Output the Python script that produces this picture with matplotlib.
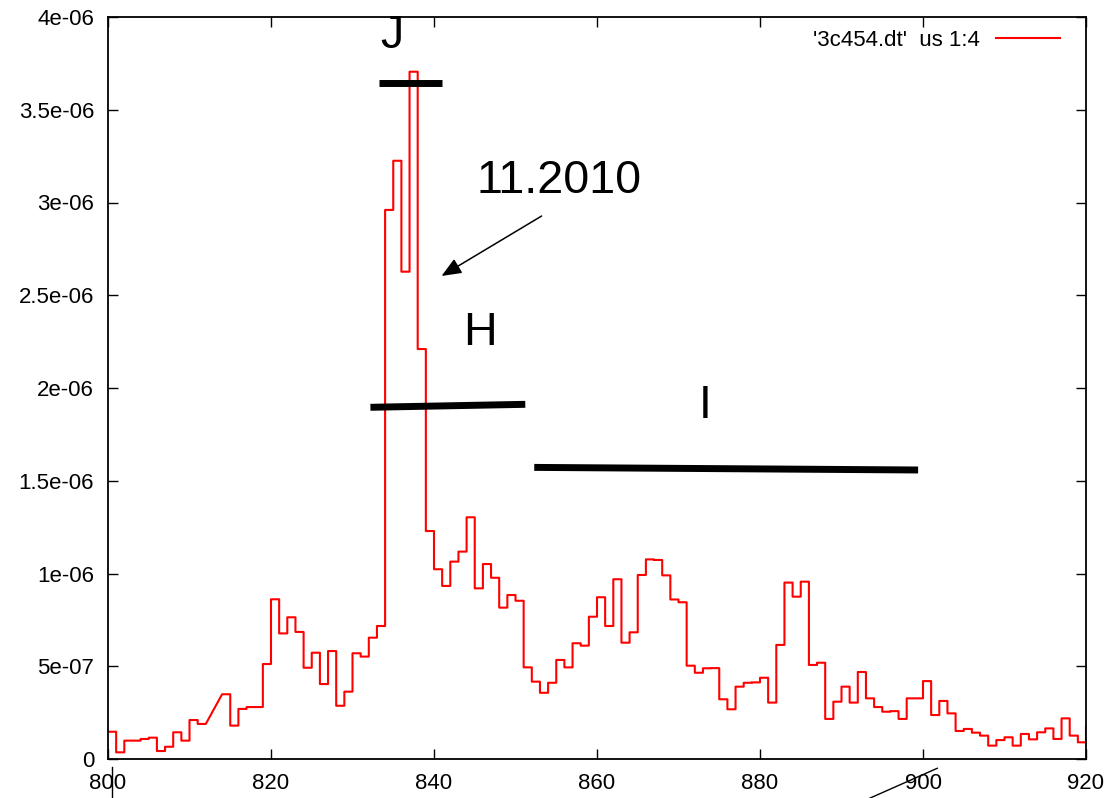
import matplotlib
matplotlib.use("Agg")
import matplotlib.pyplot as plt
import numpy as np

plt.rcParams["font.family"] = ["Liberation Sans", "DejaVu Sans"]

# bin start (channel) and value, bins 812-813 are missing in the file
channel = [800, 801, 802, 803, 804, 805, 806, 807, 808, 809, 810, 811,
           814, 815, 816, 817, 818, 819, 820, 821, 822, 823, 824, 825,
           826, 827, 828, 829, 830, 831, 832, 833, 834, 835, 836, 837,
           838, 839, 840, 841, 842, 843, 844, 845, 846, 847, 848, 849,
           850, 851, 852, 853, 854, 855, 856, 857, 858, 859, 860, 861,
           862, 863, 864, 865, 866, 867, 868, 869, 870, 871, 872, 873,
           874, 875, 876, 877, 878, 879, 880, 881, 882, 883, 884, 885,
           886, 887, 888, 889, 890, 891, 892, 893, 894, 895, 896, 897,
           898, 899, 900, 901, 902, 903, 904, 905, 906, 907, 908, 909,
           910, 911, 912, 913, 914, 915, 916, 917, 918, 919, 920]
flux = [0.147, 0.036, 0.099, 0.099, 0.108, 0.115, 0.043, 0.066, 0.144, 0.099, 0.21, 0.189,
        0.349, 0.18, 0.27, 0.28, 0.28, 0.512, 0.861, 0.677, 0.764, 0.685, 0.492, 0.573,
        0.404, 0.582, 0.287, 0.363, 0.57, 0.552, 0.654, 0.717, 2.96, 3.225, 2.627, 3.705,
        2.21, 1.229, 1.023, 0.933, 1.064, 1.118, 1.303, 0.92, 1.051, 0.977, 0.816, 0.884,
        0.853, 0.494, 0.417, 0.357, 0.411, 0.534, 0.494, 0.624, 0.611, 0.767, 0.872, 0.717,
        0.969, 0.627, 0.683, 0.992, 1.076, 1.073, 0.99, 0.86, 0.845, 0.503, 0.465, 0.489,
        0.49, 0.322, 0.268, 0.39, 0.411, 0.413, 0.438, 0.304, 0.615, 0.951, 0.875, 0.956,
        0.507, 0.519, 0.216, 0.309, 0.39, 0.304, 0.469, 0.327, 0.28, 0.255, 0.258, 0.216,
        0.327, 0.327, 0.42, 0.237, 0.313, 0.246, 0.151, 0.162, 0.142, 0.126, 0.072, 0.102,
        0.117, 0.072, 0.135, 0.106, 0.144, 0.165, 0.108, 0.219, 0.126, 0.09, 0.178]

xticks = [800, 820, 840, 860, 880, 900, 920]
yticks = [0, 0.5e-6, 1e-6, 1.5e-6, 2e-6, 2.5e-6, 3e-6, 3.5e-6, 4e-6]
ytick_labels = ["0", "5e-07", "1e-06", "1.5e-06", "2e-06", "2.5e-06", "3e-06", "3.5e-06", "4e-06"]

# hand drawn marks: (x0, x1, y0, y1)
bars = [(833.25, 840.94, 3.644e-6, 3.644e-6),
        (832.2, 851.2, 1.896e-6, 1.912e-6),
        (852.3, 899.4, 1.572e-6, 1.558e-6)]
labels = [("J", 834.78, 3.833e-6), ("H", 845.6, 2.232e-6),
          ("I", 873.3, 1.837e-6), ("11.2010", 855.4, 3.053e-6)]

# histogram style steps: each value covers [channel, channel+1]
ch = np.array(channel, dtype=float)
fl = np.array(flux) * 1e-6
xs = np.column_stack([ch, ch + 1]).ravel()
ys = np.column_stack([fl, fl]).ravel()

fig = plt.figure(figsize=(11.14, 7.98), dpi=100)
ax = fig.add_axes([108 / 1114, 1 - 759 / 798, 978 / 1114, 742 / 798])

ax.plot(xs, ys, color="red", lw=1.5, label="'3c454.dt'  us 1:4")

ax.set_xlim(800, 920)
ax.set_ylim(0, 4e-6)
ax.set_xticks(xticks)
ax.set_yticks(yticks)
ax.set_yticklabels(ytick_labels)
ax.tick_params(direction="in", length=7, width=1, top=True, right=True,
               labelsize=16, pad=10)
for s in ax.spines.values():
    s.set_linewidth(1.3)

for x0, x1, y0, y1 in bars:
    ax.plot([x0, x1], [y0, y1], color="black", lw=5, solid_capstyle="butt",
            clip_on=False)

for txt, x, y in labels:
    ax.text(x, y, txt, fontsize=33.6, ha="center", va="baseline", clip_on=False)

ax.annotate("", xy=(840.93, 2.604e-6), xytext=(853.2, 2.927e-6),
            arrowprops=dict(arrowstyle="-|>,head_length=0.6,head_width=0.25",
                            color="black", lw=1.1, shrinkA=0, shrinkB=0,
                            mutation_scale=20))

# stray pen strokes below the axis
ax.plot([800.45, 800.45], [-0.043e-6, -0.25e-6], color="black", lw=1, clip_on=False)
ax.plot([892.0, 901.75], [-0.24e-6, -0.05e-6], color="black", lw=1, clip_on=False)

leg = ax.legend(loc="upper right", bbox_to_anchor=(0.9939, 1.0094), frameon=False,
                fontsize=16, markerfirst=False, handlelength=2.9, handletextpad=0.7,
                borderaxespad=0.6, borderpad=0.3)

fig.savefig("out.png", dpi=100)
